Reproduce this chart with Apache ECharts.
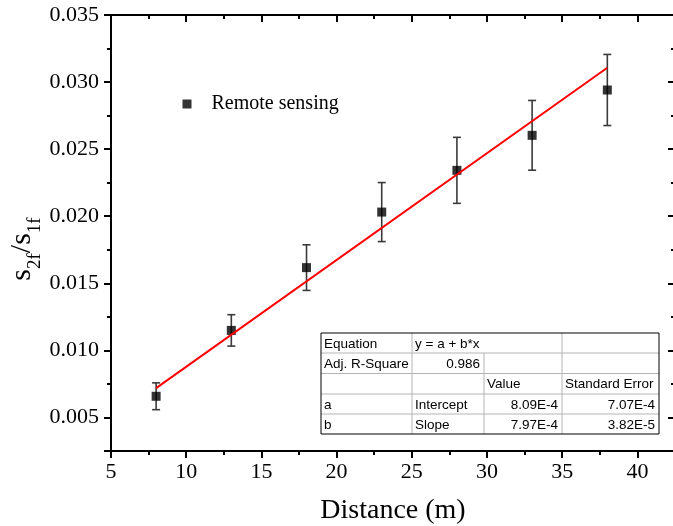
<!DOCTYPE html>
<html>
<head>
<meta charset="utf-8">
<script src="https://cdn.jsdelivr.net/npm/echarts@6/dist/echarts.min.js"></script>
<style>
html,body{margin:0;padding:0;background:#fff;}
#chart{width:673px;height:526px;}
</style>
</head>
<body>
<div id="chart"></div>
<script>
// ---- data ----
const distances = [8, 13, 18, 23, 28, 33, 38];
const ratios = [0.00658, 0.01149, 0.01617, 0.02031, 0.02342, 0.02603, 0.02941];
const errors = [0.0010, 0.00117, 0.0017, 0.0022, 0.00246, 0.0026, 0.00265];
const fitLine = [[8, 0.00719], [38, 0.03107]];
const seriesName = 'Remote sensing';
const tableRows = [
  ['Equation', 'y = a + b*x', '', ''],
  ['Adj. R-Square', '0.986', '', ''],
  ['', '', 'Value', 'Standard Error'],
  ['a', 'Intercept', '8.09E-4', '7.07E-4'],
  ['b', 'Slope', '7.97E-4', '3.82E-5']
];

const serif = '"Liberation Serif","Times New Roman",serif';
const sans = '"Liberation Sans",Arial,sans-serif';

const chart = echarts.init(document.getElementById('chart'));

const pointData = distances.map((d, i) => [d, ratios[i]]);
const errData = distances.map((d, i) => [d, ratios[i] - errors[i], ratios[i] + errors[i]]);

function axisBase(extra) {
  return Object.assign({
    splitLine: {show: false},
    axisLine: {show: true, onZero: false, lineStyle: {color: '#000', width: 2}},
    axisTick: {show: true, inside: false, length: 7, lineStyle: {color: '#000', width: 2}},
    axisLabel: {show: false}
  }, extra);
}

// table graphic
const colX = [321, 412, 484, 562, 659];
const rowY = [333, 353, 373.5, 394, 414, 434];
const tableEls = [];
tableEls.push({type: 'rect', shape: {x: colX[0], y: rowY[0], width: colX[4] - colX[0], height: rowY[5] - rowY[0]},
  style: {fill: '#fff', stroke: 'none'}, z: 100});
for (let r = 1; r < 5; r++) {
  tableEls.push({type: 'line', shape: {x1: colX[0], y1: rowY[r], x2: colX[4], y2: rowY[r]}, style: {stroke: '#b4b4b4', lineWidth: 1}, z: 101});
}
for (let c = 1; c < 4; c++) {
  const yStart = (c === 2) ? rowY[1] : rowY[0];
  tableEls.push({type: 'line', shape: {x1: colX[c], y1: yStart, x2: colX[c], y2: rowY[5]}, style: {stroke: '#b4b4b4', lineWidth: 1}, z: 101});
}
tableEls.push({type: 'rect', shape: {x: colX[0], y: rowY[0], width: colX[4] - colX[0], height: rowY[5] - rowY[0]},
  style: {fill: 'none', stroke: '#000', lineWidth: 1}, z: 102});
const rightAlign = {'1,1': true, '3,2': true, '3,3': true, '4,2': true, '4,3': true};
tableRows.forEach((row, r) => {
  row.forEach((txt, c) => {
    if (!txt) return;
    const ra = rightAlign[r + ',' + c];
    tableEls.push({
      type: 'text', z: 103,
      x: ra ? colX[c + 1] - 4 : colX[c] + 3,
      y: (rowY[r] + rowY[r + 1]) / 2 + 1,
      style: {text: txt, fill: '#000', font: '13.5px ' + sans, align: ra ? 'right' : 'left', verticalAlign: 'middle'}
    });
  });
});

const option = {
  backgroundColor: '#fff',
  animation: false,
  grid: {left: 111, top: 15, width: 564, height: 436, containLabel: false, outerBoundsMode: 'none'},
  legend: {
    left: 177.5, top: 89,
    itemWidth: 9, itemHeight: 9,
    data: [{name: seriesName, icon: 'rect'}],
    formatter: '{a|{name}}',
    textStyle: {
      color: '#000', fontFamily: serif, fontSize: 20,
      rich: {a: {fontFamily: serif, fontSize: 20, color: '#000', padding: [0, 0, 0, 15]}}
    }
  },
  xAxis: [
    axisBase({
      type: 'value', position: 'bottom', min: 5, max: 42.5, interval: 5,
      axisTick: {show: true, inside: false, length: 7, lineStyle: {color: '#000', width: 2}},
      axisLabel: {show: true, color: '#000', fontFamily: serif, fontSize: 22, margin: 10,
        formatter: v => (Math.abs(v % 5) < 1e-9 ? String(v) : '')},
      name: 'Distance (m)', nameLocation: 'middle', nameGap: 46,
      nameTextStyle: {color: '#000', fontFamily: serif, fontSize: 28}
    }),
    axisBase({type: 'value', position: 'bottom', min: 5, max: 42.5, interval: 2.5,
      axisLine: {show: false},
      axisTick: {show: true, inside: false, length: 4, lineStyle: {color: '#000', width: 2}}}),
    axisBase({type: 'value', position: 'top', min: 5, max: 42.5, interval: 5,
      axisTick: {show: true, inside: true, length: 7, lineStyle: {color: '#000', width: 2}}}),
    axisBase({type: 'value', position: 'top', min: 5, max: 42.5, interval: 2.5,
      axisLine: {show: false},
      axisTick: {show: true, inside: true, length: 4, lineStyle: {color: '#000', width: 2}}})
  ],
  yAxis: [
    axisBase({
      type: 'value', position: 'left', min: 0.0025, max: 0.035, splitNumber: 7,
      axisLabel: {show: true, color: '#000', fontFamily: serif, fontSize: 22, margin: 12,
        formatter: v => {
          const k = v / 0.005;
          return Math.abs(k - Math.round(k)) < 1e-6 ? v.toFixed(3) : '';
        }}
    }),
    axisBase({type: 'value', position: 'left', min: 0.0025, max: 0.035, interval: 0.0025,
      axisLine: {show: false},
      axisTick: {show: true, inside: false, length: 4, lineStyle: {color: '#000', width: 2}}}),
    axisBase({type: 'value', position: 'right', min: 0.0025, max: 0.035, splitNumber: 7,
      axisTick: {show: true, inside: true, length: 7, lineStyle: {color: '#000', width: 2}}}),
    axisBase({type: 'value', position: 'right', min: 0.0025, max: 0.035, interval: 0.0025,
      axisLine: {show: false},
      axisTick: {show: true, inside: true, length: 4, lineStyle: {color: '#000', width: 2}}})
  ],
  graphic: [
    {
      type: 'text', x: 20, y: 249, rotation: Math.PI / 2, z: 100,
      style: {
        text: '{s|s}{b|2f}{s|/}{s|s}{b|1f}',
        align: 'center', verticalAlign: 'middle', fill: '#000',
        rich: {
          s: {fontFamily: serif, fontSize: 30, fill: '#000', lineHeight: 34, verticalAlign: 'bottom'},
          b: {fontFamily: serif, fontSize: 19, fill: '#000', lineHeight: 22, verticalAlign: 'bottom', padding: [0, 0, -8, 0]}
        }
      }
    },
    {type: 'group', children: tableEls}
  ],
  series: [
    {
      type: 'custom', name: 'err', xAxisIndex: 0, yAxisIndex: 0, z: 2,
      data: errData,
      renderItem: function (params, api) {
        const x = api.value(0);
        const pTop = api.coord([x, api.value(2)]);
        const pBot = api.coord([x, api.value(1)]);
        const w = 4;
        const st = {stroke: '#3a3a3a', lineWidth: 1.6};
        return {type: 'group', children: [
          {type: 'line', shape: {x1: pTop[0], y1: pTop[1], x2: pBot[0], y2: pBot[1]}, style: st},
          {type: 'line', shape: {x1: pTop[0] - w, y1: pTop[1], x2: pTop[0] + w, y2: pTop[1]}, style: st},
          {type: 'line', shape: {x1: pBot[0] - w, y1: pBot[1], x2: pBot[0] + w, y2: pBot[1]}, style: st}
        ]};
      }
    },
    {
      type: 'scatter', name: seriesName, xAxisIndex: 0, yAxisIndex: 0, z: 3,
      symbol: 'rect', symbolSize: 9,
      itemStyle: {color: '#000'},
      data: pointData
    },
    {
      type: 'line', name: 'fit', xAxisIndex: 0, yAxisIndex: 0, z: 4,
      showSymbol: false, symbol: 'none',
      lineStyle: {color: '#ff0000', width: 2},
      data: fitLine
    }
  ]
};
chart.setOption(option);
</script>
</body>
</html>
